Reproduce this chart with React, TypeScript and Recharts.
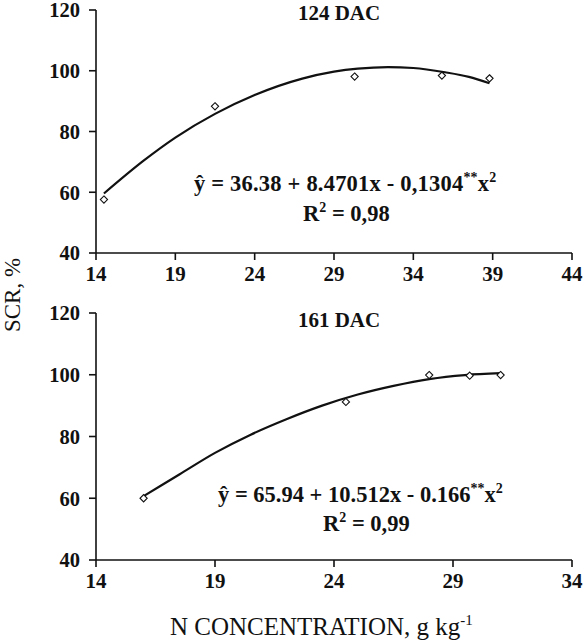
import React from 'react';
import { ComposedChart, Line, Scatter, XAxis, YAxis } from 'recharts';

// 124 DAC observations
const topObsX = [14.5, 21.5, 30.3, 35.8, 38.8];
const topObsY = [57.6, 88.3, 98.1, 98.4, 97.5];
// 124 DAC fitted curve
const topFitX = [14.5, 17, 19, 21.5, 24, 27, 29, 30.5, 32.4, 34, 36, 37.5, 38.8];
const topFitY = [59.6, 70.4, 78, 85.8, 92, 97.4, 99.7, 100.7, 101.2, 100.9, 99.5, 98, 95.9];

// 161 DAC observations
const botObsX = [16, 24.5, 28, 29.7, 31];
const botObsY = [60, 91.2, 99.9, 99.7, 99.9];
// 161 DAC fitted curve
const botFitX = [16, 17.5, 19, 20.5, 22, 23.5, 25, 26.5, 28, 29.5, 31];
const botFitY = [60.7, 67.7, 74.7, 80.6, 85.6, 90, 93.6, 96.4, 98.6, 99.9, 100.5];

const yTicks = [40, 60, 80, 100, 120];
const topXTicks = [14, 19, 24, 29, 34, 39, 44];
const botXTicks = [14, 19, 24, 29, 34];

const zip = (xs: number[], ys: number[]) => xs.map((x, i) => ({ x, y: ys[i] }));

const FONT = '"Liberation Serif"';
const xTickStyle = { fontFamily: FONT, fontWeight: 700, fontSize: 21, fill: '#111' };
const yTickStyle = { fontFamily: FONT, fontWeight: 700, fontSize: 20.5, fill: '#111' };
const axisLine = { stroke: '#111', strokeWidth: 1.6 };

const Diamond = (props: any) => {
  const { cx, cy } = props;
  if (cx == null || cy == null) return null;
  const r = 3.6;
  return (
    <polygon
      points={`${cx},${cy - r} ${cx + r},${cy} ${cx},${cy + r} ${cx - r},${cy}`}
      fill="#fff"
      stroke="#111"
      strokeWidth={1.1}
    />
  );
};

function Panel(props: {
  obs: { x: number; y: number }[];
  fit: { x: number; y: number }[];
  xTicks: number[];
  xDomain: [number, number];
  margin: { top: number; right: number; bottom: number; left: number };
}) {
  const { obs, fit, xTicks, xDomain, margin } = props;
  return (
    <ComposedChart width={585} height={310} margin={margin} style={{ fontFamily: FONT }}>
      <XAxis
        type="number"
        dataKey="x"
        domain={xDomain}
        ticks={xTicks}
        interval={0}
        allowDataOverflow
        height={30}
        tickSize={7}
        tickMargin={6}
        tick={xTickStyle}
        axisLine={axisLine}
        tickLine={axisLine}
      />
      <YAxis
        type="number"
        dataKey="y"
        domain={[40, 120]}
        ticks={yTicks}
        interval={0}
        width={96}
        tickSize={7}
        tickMargin={9}
        tick={yTickStyle}
        axisLine={axisLine}
        tickLine={axisLine}
      />
      <Line
        data={fit}
        dataKey="y"
        type="monotone"
        stroke="#111"
        strokeWidth={2.2}
        dot={false}
        activeDot={false}
        isAnimationActive={false}
      />
      <Scatter data={obs} dataKey="y" shape={<Diamond />} isAnimationActive={false} />
    </ComposedChart>
  );
}

const textBase: React.CSSProperties = {
  position: 'absolute',
  fontFamily: FONT,
  color: '#111',
  whiteSpace: 'nowrap',
  lineHeight: 1,
};

const sup: React.CSSProperties = { fontSize: 14, verticalAlign: 0, position: 'relative', top: -9 };
const eq: React.CSSProperties = { ...textBase, fontWeight: 700, fontSize: 22.5 };

export default function App() {
  return (
    <div style={{ position: 'absolute', left: 0, top: 0, width: 585, height: 642, background: '#fff', fontFamily: FONT }}>
      <div style={{ position: 'absolute', left: 0, top: -10 }}>
        <Panel
          obs={zip(topObsX, topObsY)}
          fit={zip(topFitX, topFitY)}
          xTicks={topXTicks}
          xDomain={[14, 44]}
          margin={{ top: 20, right: 13, bottom: 17, left: 0 }}
        />
      </div>
      <div style={{ position: 'absolute', left: 0, top: 290 }}>
        <Panel
          obs={zip(botObsX, botObsY)}
          fit={zip(botFitX, botFitY)}
          xTicks={botXTicks}
          xDomain={[14, 34]}
          margin={{ top: 23, right: 13, bottom: 10, left: 0 }}
        />
      </div>

      {/* titles */}
      <div style={{ ...textBase, left: 289, top: 3, width: 100, textAlign: 'center', fontWeight: 700, fontSize: 21 }}>124 DAC</div>
      <div style={{ ...textBase, left: 289, top: 310, width: 100, textAlign: 'center', fontWeight: 700, fontSize: 21 }}>161 DAC</div>

      {/* equations */}
      <div style={{ ...eq, left: 194, top: 173, letterSpacing: 0.2 }}>
        ŷ = 36.38 + 8.4701x - 0,1304<span style={sup}>**</span>x<span style={sup}>2</span>
      </div>
      <div style={{ ...eq, left: 303, top: 203 }}>
        R<span style={sup}>2</span> = 0,98
      </div>
      <div style={{ ...eq, left: 218, top: 484 }}>
        ŷ = 65.94 + 10.512x - 0.166<span style={sup}>**</span>x<span style={sup}>2</span>
      </div>
      <div style={{ ...eq, left: 323, top: 513 }}>
        R<span style={sup}>2</span> = 0,99
      </div>

      {/* axis titles */}
      <div
        style={{
          ...textBase,
          left: 12,
          top: 295,
          fontSize: 23,
          transform: 'translate(-50%, -50%) rotate(-90deg)',
        }}
      >
        SCR, %
      </div>
      <div style={{ ...textBase, left: 170, top: 614, fontSize: 25 }}>
        N CONCENTRATION, g kg<span style={{ ...sup, fontSize: 15, top: -10 }}>-1</span>
      </div>
    </div>
  );
}
